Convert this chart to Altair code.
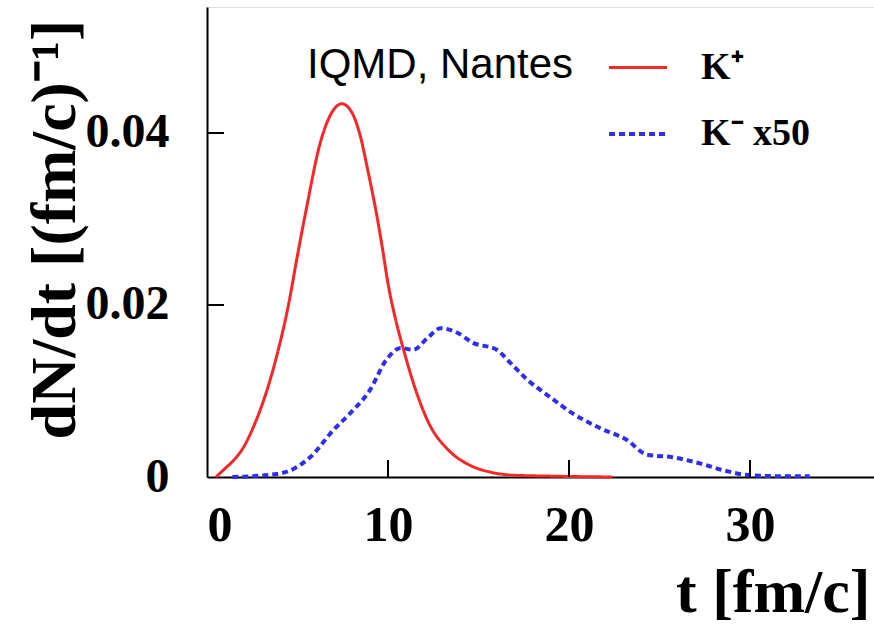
import altair as alt
import pandas as pd

# K+ (solid red)
t_kplus = [0.5, 1.0, 1.5, 2.0, 2.6, 3.3, 4.0, 4.5, 5.0, 5.5, 6.25, 6.9, 7.45, 8.0, 8.45, 8.9, 9.4, 9.7, 10.0, 10.4, 10.9, 11.5, 12.2, 13.4, 14.4, 15.8, 17.0, 19.0, 22.4]
v_kplus = [0.0, 0.0010, 0.0020, 0.0034, 0.0060, 0.0100, 0.0153, 0.0200, 0.0258, 0.0313, 0.0388, 0.0424, 0.0434, 0.0424, 0.0398, 0.0355, 0.0302, 0.0265, 0.0225, 0.0185, 0.0145, 0.0103, 0.0065, 0.0030, 0.0015, 0.0005, 0.0002, 0.0001, 0.0]

# K- x50 (dashed blue)
t_kminus = [1.4, 2.5, 4.2, 5.7, 7.0, 7.9, 9.0, 9.9, 10.7, 11.4, 12.2, 12.9, 13.8, 14.7, 16.0, 16.7, 17.7, 18.95, 20.2, 21.7, 23.2, 24.3, 25.7, 27.2, 28.5, 30.0, 31.5, 33.3]
v_kminus = [0.0, 0.0001, 0.0005, 0.0023, 0.0055, 0.0074, 0.0101, 0.0136, 0.0150, 0.0148, 0.0162, 0.0173, 0.0168, 0.0156, 0.0148, 0.0134, 0.0113, 0.0093, 0.0074, 0.0057, 0.0043, 0.0026, 0.0023, 0.0016, 0.0008, 0.0002, 0.0001, 0.0001]

series_names = ["K⁺", "K⁻ x50"]
series_colors = ["#f42828", "#2e2ef0"]
annotation = ["IQMD, Nantes"]
x_label_values = [0, 10, 20, 30]
y_label_values = [0, 0.02, 0.04]
x_tick_values = [10, 20, 30]
y_tick_values = [0.02, 0.04]

df = pd.concat([
    pd.DataFrame({"t": t_kplus, "v": v_kplus, "series": series_names[0]}),
    pd.DataFrame({"t": t_kminus, "v": v_kminus, "series": series_names[1]}),
], ignore_index=True)
df_xt = pd.DataFrame({"t": x_tick_values})
df_yt = pd.DataFrame({"v": y_tick_values})
df_note = pd.DataFrame({"label": annotation})

W, H = 667, 470
xscale = alt.Scale(domain=[0, 36.85], nice=False, zero=False)
yscale = alt.Scale(domain=[0, 0.05465], nice=False)

xaxis = alt.Axis(
    values=x_label_values, format="d", ticks=False, grid=False,
    domainColor="black", domainWidth=2,
    labelFont="Liberation Serif", labelFontWeight="bold", labelFontSize=50,
    labelColor="black", labelPadding=23,
    title="t [fm/c]", titleFont="Liberation Serif", titleFontWeight="bold",
    titleFontSize=62, titleColor="black", titleX=663, titleY=134,
    titleAlign="right", titleAnchor="end", titleBaseline="alphabetic")
yaxis = alt.Axis(
    values=y_label_values, ticks=False, grid=False,
    labelExpr="datum.value == 0 ? '0' : format(datum.value, '.2f')",
    domainColor="black", domainWidth=2,
    labelFont="Liberation Serif", labelFontWeight="bold", labelFontSize=48,
    labelColor="black", labelPadding=38,
    title="dN/dt [(fm/c)⁻¹]", titleFont="Liberation Serif", titleFontWeight="bold",
    titleFontSize=64, titleColor="black", titleAngle=270, titleX=-152, titleY=222,
    titleAlign="center", titleBaseline="middle")

leg = alt.Legend(
    orient="none", legendX=400, legendY=30, title=None,
    symbolType="stroke", symbolSize=3364,
    labelFont="Liberation Serif", labelFontWeight="bold", labelFontSize=38,
    labelColor="black", labelOffset=32, rowPadding=16, padding=0,
)

lines = alt.Chart(df).mark_line(interpolate="monotone").encode(
    x=alt.X("t:Q", scale=xscale, axis=xaxis),
    y=alt.Y("v:Q", scale=yscale, axis=yaxis),
    color=alt.Color("series:N", scale=alt.Scale(domain=series_names, range=series_colors), legend=leg),
    strokeDash=alt.StrokeDash("series:N", scale=alt.Scale(domain=series_names, range=[[1, 0], [6, 4]]), legend=leg),
    strokeWidth=alt.StrokeWidth("series:N", scale=alt.Scale(domain=series_names, range=[3, 4]), legend=leg),
)

xticks = alt.Chart(df_xt).mark_rule(color="black", strokeWidth=2).encode(
    x=alt.X("t:Q", scale=xscale, axis=xaxis),
    y=alt.value(H - 17), y2=alt.value(H),
)
yticks = alt.Chart(df_yt).mark_rule(color="black", strokeWidth=2).encode(
    y=alt.Y("v:Q", scale=yscale, axis=yaxis),
    x=alt.value(0), x2=alt.value(17),
)
note = alt.Chart(df_note).mark_text(
    align="left", baseline="alphabetic", font="Liberation Sans", fontSize=42, color="black"
).encode(text="label:N", x=alt.value(100), y=alt.value(71))

chart = alt.layer(lines, xticks, yticks, note).properties(
    width=W, height=H,
    padding={"left": 207, "top": 7, "right": 0, "bottom": 148},
    autosize="none",
).configure_view(strokeWidth=0, stroke="transparent").configure(background="white")

chart.save("out.html", embed_options={"renderer": "svg", "actions": False})
